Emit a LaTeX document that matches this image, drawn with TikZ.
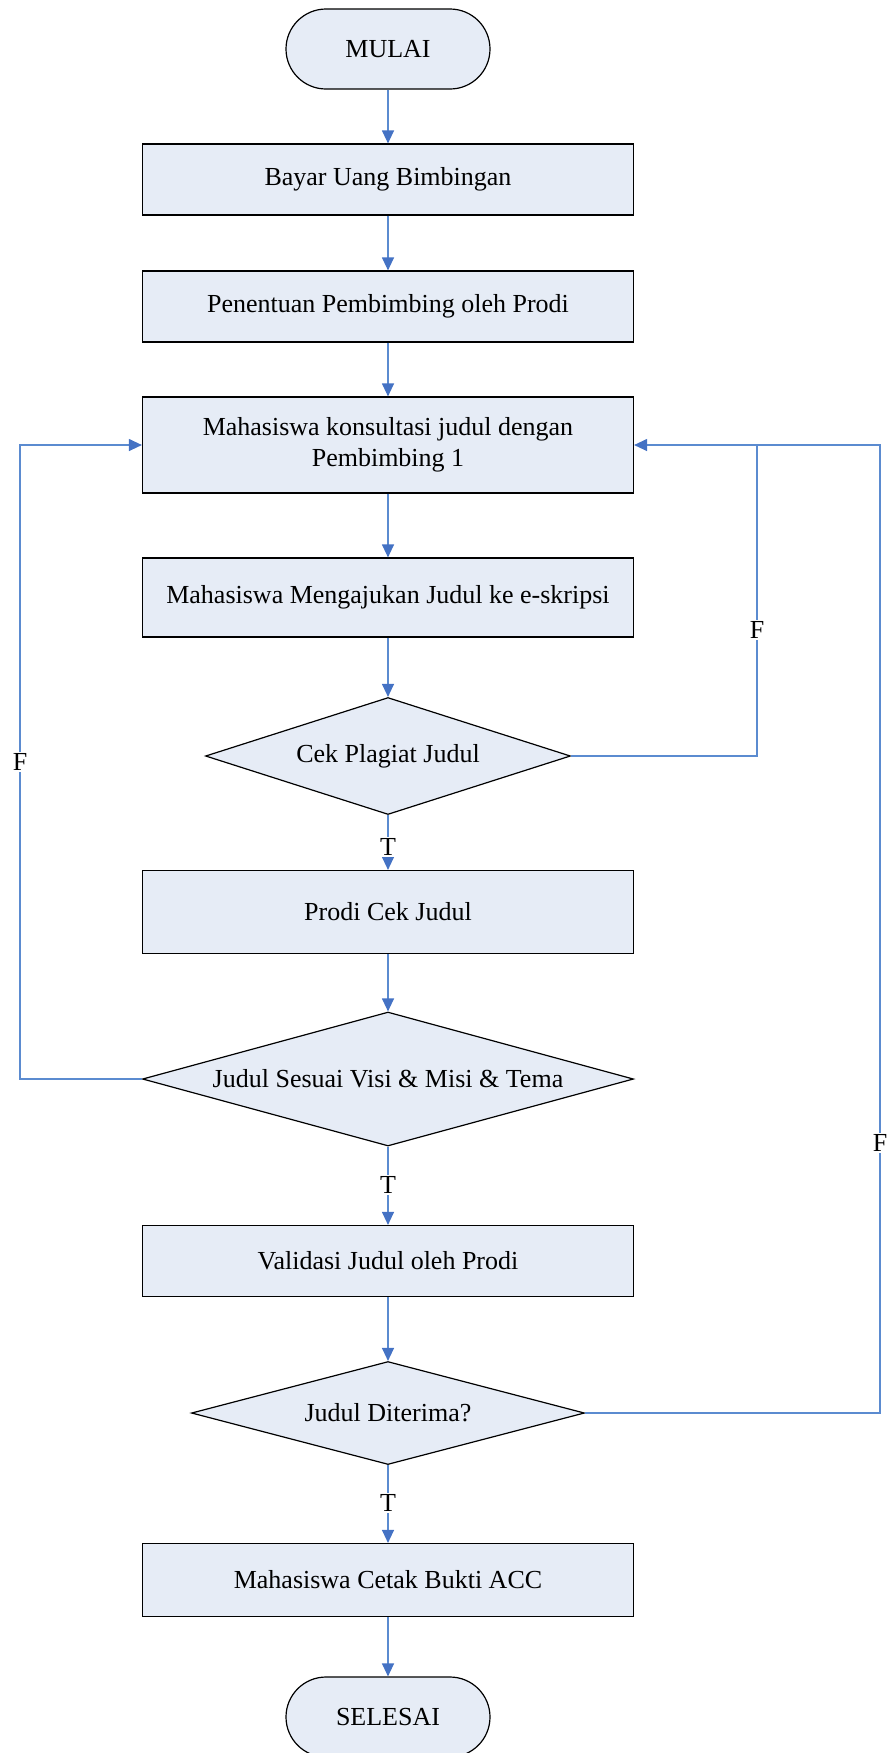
\documentclass[tikz,border=0pt]{standalone}
\usepackage{fontspec}
\setmainfont{Liberation Serif}
\usetikzlibrary{shapes.geometric,arrows.meta}
\definecolor{fillb}{RGB}{230,236,246}
\definecolor{lineb}{RGB}{91,139,208}
\definecolor{tipb}{RGB}{68,114,196}
\begin{document}
\begin{tikzpicture}[x=0.5pt,y=-0.5pt, font=\fontsize{13}{15.6}\selectfont,
 proc/.style={draw=black, line width=0.6pt, fill=fillb, rectangle, minimum width=245.5pt, align=center, inner sep=0pt},
 term/.style={draw=black, line width=0.6pt, fill=fillb, rectangle, rounded corners=20pt, minimum width=102pt, minimum height=40pt},
 dec/.style={draw=black, line width=0.6pt, fill=fillb, diamond, inner sep=0pt},
 arr/.style={draw=lineb, line width=0.6pt, -{Triangle[width=6pt,length=6.5pt,fill=tipb,color=tipb]}},
 ln/.style={draw=lineb, line width=0.6pt},
 lab/.style={fill=white, inner sep=0.8pt}]
\useasboundingbox (0,0) rectangle (889,1753);
\node[term] (start) at (388,49) {MULAI};
\node[proc, minimum height=35.5pt] (b1) at (388,179.5) {Bayar Uang Bimbingan};
\node[proc, minimum height=35.5pt] (b2) at (388,306.5) {Penentuan Pembimbing oleh Prodi};
\node[proc, minimum height=48pt] (b3) at (388,445) {Mahasiswa konsultasi judul dengan\\Pembimbing 1};
\node[proc, minimum height=39.5pt] (b4) at (388,597.5) {Mahasiswa Mengajukan Judul ke e-skripsi};
\node[dec, aspect=3.12, minimum width=182.5pt, minimum height=58.5pt] (d1) at (388,756) {Cek Plagiat Judul};
\node[proc, minimum height=41.5pt] (b5) at (388,912) {Prodi Cek Judul};
\node[dec, aspect=3.66, minimum width=245.5pt, minimum height=67pt] (d2) at (388,1079) {Judul Sesuai Visi \& Misi \& Tema};
\node[proc, minimum height=35.5pt] (b6) at (388,1261) {Validasi Judul oleh Prodi};
\node[dec, aspect=3.82, minimum width=196.5pt, minimum height=51.5pt] (d3) at (388,1413) {Judul Diterima?};
\node[proc, minimum height=36.5pt] (b7) at (388,1580) {Mahasiswa Cetak Bukti ACC};
\node[term] (end) at (388,1717) {SELESAI};

\draw[arr] (start) -- (b1);
\draw[arr] (b1) -- (b2);
\draw[arr] (b2) -- (b3);
\draw[arr] (b3) -- (b4);
\draw[arr] (b4) -- (d1);
\draw[arr] (d1) -- node[lab,pos=0.58]{T} (b5);
\draw[arr] (b5) -- (d2);
\draw[arr] (d2) -- node[lab,pos=0.49]{T} (b6);
\draw[arr] (b6) -- (d3);
\draw[arr] (d3) -- node[lab,pos=0.49]{T} (b7);
\draw[arr] (b7) -- (end);

\coordinate (L1) at (20,1079);
\coordinate (L2) at (20,445);
\coordinate (R1a) at (757,756);
\coordinate (R1b) at (757,445);
\coordinate (R2a) at (880,1413);
\coordinate (R2b) at (880,445);
\draw[arr] (d2.west) -- (L1) -- node[lab,pos=0.5]{F} (L2) -- (b3.west);
\draw[arr] (d1.east) -- (R1a) -- node[lab,pos=0.405]{F} (R1b) -- (b3.east);
\draw[ln] (d3.east) -- (R2a) -- node[lab,pos=0.279]{F} (R2b) -- (R1b);
\end{tikzpicture}
\end{document}
